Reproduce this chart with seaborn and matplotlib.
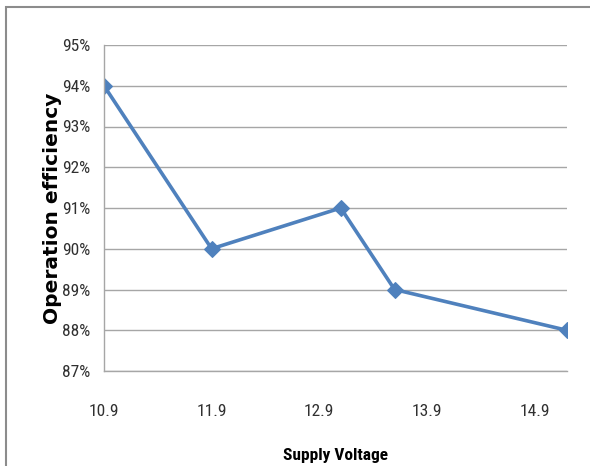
import matplotlib
matplotlib.use("Agg")
import matplotlib.pyplot as plt
from matplotlib.patches import Rectangle
from matplotlib.ticker import FuncFormatter
from matplotlib import font_manager
import seaborn as sns
import pandas as pd

# Supply voltage vs. operation efficiency
supply_voltage = [10.9, 11.9, 13.1, 13.6, 15.2]
efficiency_pct = [94, 90, 91, 89, 88]
x_ticks = [10.9, 11.9, 12.9, 13.9, 14.9]
y_ticks = [87, 88, 89, 90, 91, 92, 93, 94, 95]

df = pd.DataFrame({"Supply Voltage": supply_voltage, "Efficiency": efficiency_pct})

sns.set_style("white")

installed = {f.name for f in font_manager.fontManager.ttflist}


def pick(candidates, default="DejaVu Sans"):
    for name in candidates:
        if name in installed:
            return name
    return default


narrow = pick(["Liberation Sans Narrow", "Arial Narrow", "Roboto Condensed",
               "Archivo Narrow", "PT Sans Narrow", "Open Sans Condensed",
               "Barlow Condensed", "Encode Sans Condensed", "Carlito"])
heavy = pick(["DejaVu Sans", "Liberation Sans"])

fig = plt.figure(figsize=(5.9, 4.66), dpi=100)
ax = fig.add_axes([104 / 590, 1 - 371 / 466, (566.7 - 104) / 590, (371 - 45) / 466])

sns.lineplot(data=df, x="Supply Voltage", y="Efficiency", ax=ax, color="#4F81BD",
             linewidth=2.6, marker="D", markersize=8, markeredgecolor="#4F81BD",
             sort=False)

ax.set_xlim(10.9, 15.2)
ax.set_ylim(87, 95)
ax.set_xticks(x_ticks)
ax.set_yticks(y_ticks)
ax.yaxis.set_major_formatter(FuncFormatter(lambda v, _: f"{int(round(v))}%"))
ax.xaxis.set_major_formatter(FuncFormatter(lambda v, _: f"{v:.1f}"))

ax.grid(axis="y", color="#a6a6a6", linewidth=1.0)
ax.grid(axis="x", visible=False)
for side in ("top", "right"):
    ax.spines[side].set_visible(False)
for side in ("left", "bottom"):
    ax.spines[side].set_color("#a6a6a6")
    ax.spines[side].set_linewidth(1.0)

ax.tick_params(axis="both", length=0)
ax.tick_params(axis="x", pad=24)
ax.tick_params(axis="y", pad=10)
for lbl in ax.get_xticklabels() + ax.get_yticklabels():
    lbl.set_fontfamily([narrow, "DejaVu Sans"])
    lbl.set_fontsize(12.5)
    lbl.set_color("#303030")

ax.set_xlabel("Supply Voltage", fontfamily=[narrow, "DejaVu Sans"], fontweight="bold",
              fontsize=12.5, color="black")
ax.xaxis.set_label_coords(0.501, -0.258)
ax.xaxis.label.set_va("center")
ax.set_ylabel("Operation efficiency", fontfamily=heavy, fontweight="bold",
              fontsize=14.5, color="black")
ax.yaxis.set_label_coords(-0.111, 0.5)
ax.yaxis.label.set_va("center")

# Chart area border
fig.patches.append(Rectangle((6 / 590, -0.1), 1.2, 1 - 7 / 466 + 0.1,
                             transform=fig.transFigure, fill=False,
                             edgecolor="#8c8c8c", linewidth=1.5))

fig.savefig("out.png", dpi=100)
